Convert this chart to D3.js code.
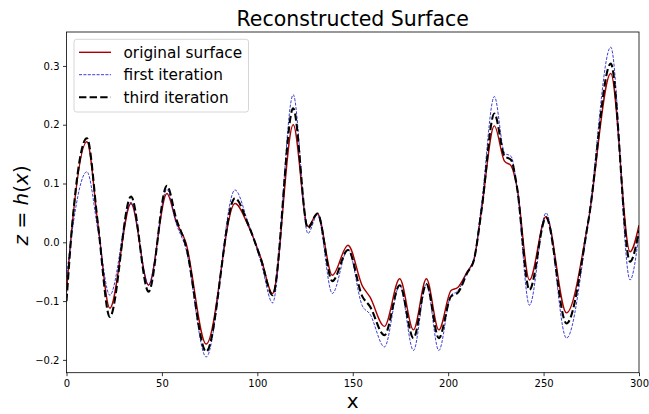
<!DOCTYPE html>
<html>
<head>
<meta charset="utf-8">
<script src="https://cdn.jsdelivr.net/npm/d3@7"></script>
<style>
  html, body { margin: 0; padding: 0; background: #fff; }
  svg { display: block; font-family: "DejaVu Sans", sans-serif; }
</style>
</head>
<body>
<svg id="chart" width="649" height="414"></svg>
<script>
// ---- data ----
const xs = [0, 3, 10.7, 16.5, 22.7, 33.8, 43.0, 52.6, 57.5, 62.5, 73.2, 88.3, 95, 102, 108,
  118.8, 126.5, 131.5, 139.3, 147.5, 155, 159, 166.6, 174.6, 181.8, 188.6, 195.1, 201.5, 205,
  210, 213.5, 217.5, 224.2, 229.5, 233, 236, 242.6, 251.3, 262, 273.5, 285.2, 295.3, 300];
const originalSurface = [-0.085, 0.03, 0.171, 0.03, -0.112, 0.066, -0.073, 0.083, 0.035, 0.0, -0.173, 0.066, 0.030, -0.028, -0.087,
  0.200, 0.027, 0.049, -0.056, -0.005, -0.074, -0.093, -0.143, -0.062, -0.149, -0.062, -0.149, -0.082, -0.077,
  -0.050, -0.030, 0.055, 0.198, 0.138, 0.130, 0.095, -0.064, 0.044, -0.120, 0.037, 0.287, -0.016, 0.029];
const firstIteration = [-0.060, 0.02, 0.120, 0.02, -0.090, 0.068, -0.072, 0.090, 0.032, -0.010, -0.195, 0.089, 0.035, -0.035, -0.103,
  0.251, 0.015, 0.047, -0.087, -0.012, -0.108, -0.122, -0.178, -0.073, -0.184, -0.071, -0.184, -0.090, -0.083,
  -0.050, -0.028, 0.065, 0.248, 0.152, 0.146, 0.095, -0.107, 0.050, -0.163, 0.037, 0.332, -0.064, 0.015];
const thirdIteration = [-0.100, 0.03, 0.177, 0.03, -0.127, 0.078, -0.084, 0.096, 0.040, -0.005, -0.186, 0.075, 0.032, -0.030, -0.090,
  0.228, 0.024, 0.049, -0.066, -0.013, -0.092, -0.109, -0.158, -0.073, -0.163, -0.071, -0.163, -0.092, -0.086,
  -0.052, -0.030, 0.055, 0.219, 0.147, 0.140, 0.095, -0.081, 0.042, -0.138, 0.037, 0.304, -0.033, 0.020];
const xTicks = [0, 50, 100, 150, 200, 250, 300];
const yTicks = [-0.2, -0.1, 0.0, 0.1, 0.2, 0.3];
const legendLabels = ["original surface", "first iteration", "third iteration"];
const titleText = "Reconstructed Surface";

// ---- layout ----
const svg = d3.select("#chart");
const L = 66.5, R = 639, T = 32, B = 372.7;
const x = d3.scaleLinear().domain([0, 300]).range([L, R]);
const y = d3.scaleLinear().domain([-0.2218, 0.3577]).range([B, T]);

const series = [
  { name: legendLabels[0], vals: originalSurface, color: "#aa0000", width: 1.4, dash: null },
  { name: legendLabels[1], vals: firstIteration, color: "#1a1acc", width: 0.85, dash: "3,1.4" },
  { name: legendLabels[2], vals: thirdIteration, color: "#000000", width: 2.1, dash: "7.4,3.2" }
];

svg.append("defs").append("clipPath").attr("id", "clip")
  .append("rect").attr("x", L).attr("y", T).attr("width", R - L).attr("height", B - T);

const line = d3.line().curve(d3.curveMonotoneX);
const g = svg.append("g").attr("clip-path", "url(#clip)");
series.forEach(s => {
  g.append("path")
    .attr("d", line(xs.map((xv, i) => [x(xv), y(s.vals[i])])))
    .attr("fill", "none")
    .attr("stroke", s.color)
    .attr("stroke-width", s.width)
    .attr("stroke-dasharray", s.dash)
    .attr("stroke-linejoin", "round");
});

// ---- axes ----
const fmt = v => (v < 0 ? "\u2212" : "") + Math.abs(v).toFixed(1);
const xAxis = svg.append("g").attr("transform", `translate(0,${B})`)
  .call(d3.axisBottom(x).tickValues(xTicks).tickSize(3.5).tickPadding(3.5).tickFormat(d3.format("d")));
const yAxis = svg.append("g").attr("transform", `translate(${L},0)`)
  .call(d3.axisLeft(y).tickValues(yTicks).tickSize(3.5).tickPadding(3.5).tickFormat(fmt));
[xAxis, yAxis].forEach(a => {
  a.select(".domain").remove();
  a.selectAll("line").attr("stroke", "#000").attr("stroke-width", 0.8);
  a.selectAll("text").attr("font-family", "DejaVu Sans").attr("font-size", 10).attr("fill", "#000");
});

// frame
svg.append("rect").attr("x", L).attr("y", T).attr("width", R - L).attr("height", B - T)
  .attr("fill", "none").attr("stroke", "#000").attr("stroke-width", 0.8);

// ---- title and labels ----
svg.append("text").attr("x", (L + R) / 2).attr("y", 25.5).attr("text-anchor", "middle")
  .attr("font-size", 20.5).attr("fill", "#000").text(titleText);

svg.append("text").attr("x", (L + R) / 2).attr("y", 408).attr("text-anchor", "middle")
  .attr("font-size", 20).attr("fill", "#000").text("x");

const yl = svg.append("text").attr("transform", `translate(28,${(T + B) / 2 + 3}) rotate(-90)`)
  .attr("text-anchor", "middle").attr("font-size", 20).attr("fill", "#000");
yl.append("tspan").attr("font-style", "italic").text("z");
yl.append("tspan").text(" = ");
yl.append("tspan").attr("font-style", "italic").text("h");
yl.append("tspan").text("(");
yl.append("tspan").attr("font-style", "italic").text("x");
yl.append("tspan").text(")");

// ---- legend ----
const lg = svg.append("g");
lg.append("rect").attr("x", 74).attr("y", 39.3).attr("width", 174.5).attr("height", 72.7)
  .attr("rx", 2.5).attr("fill", "#fff").attr("fill-opacity", 0.8)
  .attr("stroke", "#cccccc").attr("stroke-width", 0.8);
const rowY = [52.3, 74.7, 97.3];
series.forEach((s, i) => {
  lg.append("line").attr("x1", 79).attr("x2", 111).attr("y1", rowY[i]).attr("y2", rowY[i])
    .attr("stroke", s.color).attr("stroke-width", s.width).attr("stroke-dasharray", s.dash);
  lg.append("text").attr("x", 123.5).attr("y", rowY[i] + 5.5).attr("font-size", 15.3)
    .attr("fill", "#000").text(s.name);
});
</script>
</body>
</html>
